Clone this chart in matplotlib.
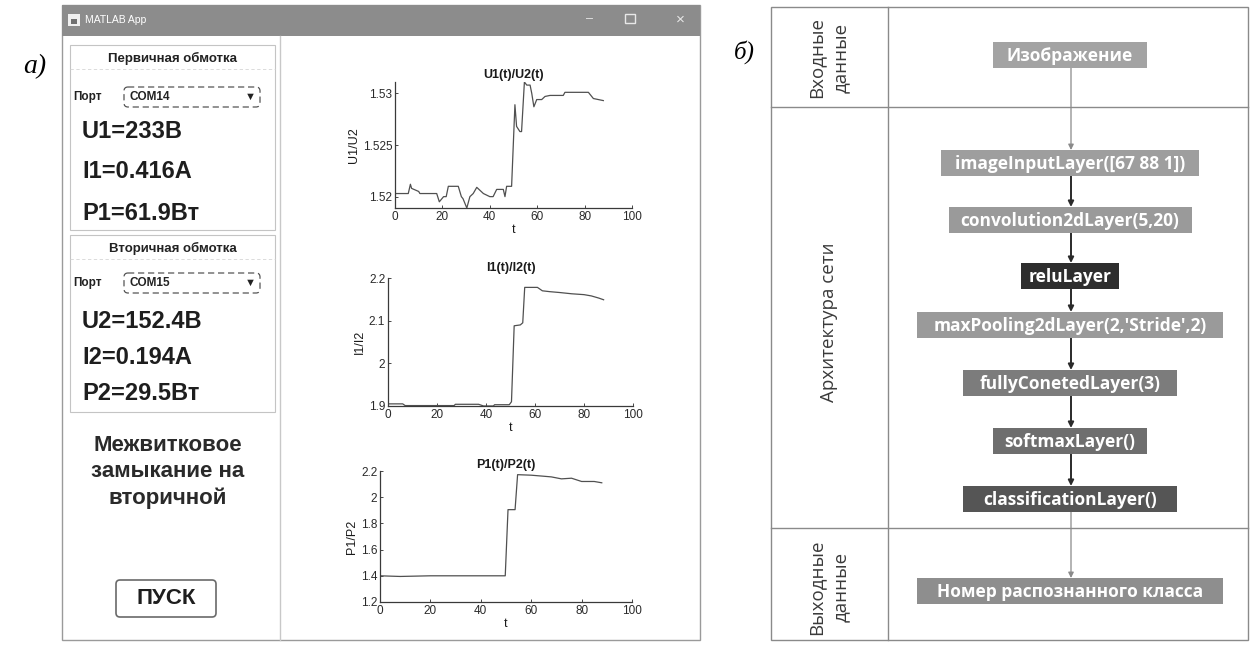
import numpy as np
import matplotlib.pyplot as plt
from matplotlib.patches import Rectangle, FancyBboxPatch

W, H = 1254, 645

# U1(t)/U2(t)
u_t = [0, 5.6, 6.5, 7, 10, 10.5, 17.6, 18.7, 20.5, 21.6, 22.5, 26.7, 28, 28.7, 30.3, 31.6,
       33, 34.5, 35.9, 37.3, 40, 41.4, 42.9, 45.7, 46.4, 47.1, 49.2, 50.6, 51.3, 52.7, 53.4,
       54.6, 55.6, 57, 57.7, 58.6, 59.8, 61.9, 63.3, 65.4, 71, 71.7, 81.6, 83.7, 85.8, 87.9]
u_ratio = [1.5203, 1.5203, 1.5212, 1.5208, 1.5205, 1.5203, 1.5203, 1.5195, 1.5200, 1.5200,
           1.5210, 1.5210, 1.5200, 1.5198, 1.5189, 1.5200, 1.5203, 1.5209, 1.5206, 1.5203,
           1.5200, 1.5200, 1.5207, 1.5207, 1.5200, 1.5210, 1.5210, 1.5289, 1.5268, 1.5263,
           1.5263, 1.5311, 1.5308, 1.5308, 1.5300, 1.5287, 1.5294, 1.5294, 1.5297, 1.5298,
           1.5298, 1.5301, 1.5301, 1.5295, 1.5294, 1.5293]

# I1(t)/I2(t)
i_t = [0, 6, 7, 27, 27.5, 37, 39, 43, 43.5, 49.5, 50.4, 51.5, 54, 55, 55.8, 61, 63, 66,
       70, 75, 80, 83, 86, 88]
i_ratio = [1.905, 1.905, 1.901, 1.901, 1.904, 1.904, 1.900, 1.900, 1.903, 1.903, 1.91,
           2.088, 2.09, 2.095, 2.178, 2.178, 2.170, 2.168, 2.166, 2.163, 2.161, 2.158,
           2.153, 2.149]

# P1(t)/P2(t)
p_t = [0, 8, 20, 49.7, 50.8, 53.6, 54.6, 60, 65, 68, 72, 76, 80, 85, 88]
p_ratio = [1.40, 1.395, 1.40, 1.40, 1.905, 1.905, 2.172, 2.168, 2.16, 2.155, 2.14, 2.145,
           2.12, 2.12, 2.11]

x_ticks = [0, 20, 40, 60, 80, 100]
u_yticks = [1.52, 1.525, 1.53]
i_yticks = [1.9, 2.0, 2.1, 2.2]
p_yticks = [1.2, 1.4, 1.6, 1.8, 2.0, 2.2]
u_ylabels = ['1.52', '1.525', '1.53']
i_ylabels = ['1.9', '2', '2.1', '2.2']
p_ylabels = ['1.2', '1.4', '1.6', '1.8', '2', '2.2']

group_titles = ['Первичная обмотка', 'Вторичная обмотка']
ports = ['COM14', 'COM15']
readings1 = ['U1=233В', 'I1=0.416A', 'P1=61.9Вт']
readings2 = ['U2=152.4В', 'I2=0.194A', 'P2=29.5Вт']
status = 'Межвитковое\nзамыкание на\nвторичной'

layers = ['Изображение', 'imageInputLayer([67 88 1])', 'convolution2dLayer(5,20)',
          'reluLayer', "maxPooling2dLayer(2,'Stride',2)", 'fullyConetedLayer(3)',
          'softmaxLayer()', 'classificationLayer()', 'Номер распознанного класса']
row_labels = ['Входные\nданные', 'Архитектура сети', 'Выходные\nданные']

sans = ['Liberation Sans', 'DejaVu Sans']
flow = ['Open Sans', 'DejaVu Sans']


def px_axes(fig, x0, y0, x1, y1):
    return fig.add_axes([x0 / W, 1 - y1 / H, (x1 - x0) / W, (y1 - y0) / H])


def matlab_plot(ax, t, v, title, ylab, yticks, ylabels, ylim, tpad):
    ax.plot(t, v, color='#505050', lw=0.9)
    ax.set_xlim(0, 100)
    ax.set_ylim(*ylim)
    ax.set_xticks(x_ticks)
    ax.set_yticks(yticks)
    ax.set_yticklabels(ylabels)
    for s in ['top', 'right']:
        ax.spines[s].set_visible(False)
    for s in ['left', 'bottom']:
        ax.spines[s].set_color('#3a3a3a')
        ax.spines[s].set_linewidth(0.9)
    ax.tick_params(direction='in', length=2.5, width=0.6, colors='#2a2a2a',
                   labelsize=8.5, pad=2)
    for lab in ax.get_xticklabels() + ax.get_yticklabels():
        lab.set_family(sans)
    ax.set_title(title, fontsize=9, fontweight='bold', family=sans, pad=tpad, color='#1a1a1a')
    ax.set_xlabel('t', fontsize=9, family=sans, labelpad=1, color='#1a1a1a')
    ax.set_ylabel(ylab, fontsize=9, family=sans, labelpad=2, color='#1a1a1a')
    ax.patch.set_alpha(0)


fig = plt.figure(figsize=(W / 100, H / 100), dpi=100)
bg = fig.add_axes([0, 0, 1, 1])
bg.set_xlim(0, W)
bg.set_ylim(H, 0)
bg.axis('off')

# ---- a) MATLAB window
bg.text(35, 67, 'а)', fontsize=20, style='italic', family='Liberation Serif',
        ha='center', va='center')
bg.add_patch(Rectangle((62, 5), 638, 635, fc='white', ec='#9a9a9a', lw=1))
bg.add_patch(Rectangle((62, 5), 638, 31, fc='#8c8c8c', ec='none'))
bg.add_patch(Rectangle((68, 14), 12, 12, fc='#f0f0f0', ec='none'))
bg.add_patch(Rectangle((71, 19), 6, 5, fc='#707070', ec='none'))
bg.text(85, 20, 'MATLAB App', fontsize=7.5, family=sans, color='white', va='center')
bg.text(590, 19, '–', fontsize=9, family=sans, color='#e8e8e8', ha='center', va='center')
bg.add_patch(Rectangle((625, 14), 10, 9, fc='none', ec='#e8e8e8', lw=1))
bg.text(680, 20, '×', fontsize=11, family=sans, color='#e8e8e8', ha='center', va='center')
bg.plot([280, 280], [36, 640], color='#c8c8c8', lw=1)

for k, (gy0, gy1) in enumerate([(45, 230), (235, 412)]):
    bg.add_patch(Rectangle((70, gy0), 205, gy1 - gy0, fc='none', ec='#c4c4c4', lw=0.8))
    bg.plot([70, 275], [gy0 + 24, gy0 + 24], color='#d6d6d6', lw=0.6, ls=(0, (4, 3)))
    bg.text(173, gy0 + 13, group_titles[k], fontsize=9.5, fontweight='bold', family=sans,
            ha='center', va='center', color='#222')
    py = gy0 + 52 if k == 0 else gy0 + 48
    bg.text(73, py, 'Порт', fontsize=8.5, fontweight='bold', family=sans, va='center',
            color='#222')
    bg.add_patch(FancyBboxPatch((124, py - 10), 136, 20, boxstyle='round,pad=0,rounding_size=4',
                                fc='white', ec='#555', lw=0.9, ls=(0, (5, 3))))
    bg.text(130, py, ports[k], fontsize=8.5, fontweight='bold', family=sans, va='center',
            color='#222')
    bg.text(250, py, '▼', fontsize=8, family=sans, ha='center', va='center', color='#222')

for j, s in enumerate(readings1):
    bg.text(82, 131 + 41 * j, s, fontsize=17, fontweight='bold', family=sans,
            va='center', color='#1e1e1e')
for j, s in enumerate(readings2):
    bg.text(82, 322 + 36 * j, s, fontsize=17, fontweight='bold', family=sans,
            va='center', color='#1e1e1e')
bg.text(168, 472, status, fontsize=16, fontweight='bold', family=sans, ha='center',
        va='center', linespacing=1.3, color='#2a2a2a')
bg.add_patch(FancyBboxPatch((116, 580), 100, 37, boxstyle='round,pad=0,rounding_size=4',
                            fc='white', ec='#6a6a6a', lw=1.2))
bg.text(166, 599, 'ПУСК', fontsize=16, fontweight='bold', family=sans, ha='center',
        va='center', color='#1e1e1e')

ax1 = px_axes(fig, 395, 82, 632, 208)
matlab_plot(ax1, u_t, u_ratio, 'U1(t)/U2(t)', 'U1/U2', u_yticks, u_ylabels,
            (min(u_ratio), max(u_ratio)), 3)
ax2 = px_axes(fig, 388, 278, 633, 406)
matlab_plot(ax2, i_t, i_ratio, 'I1(t)/I2(t)', 'I1/I2', i_yticks, i_ylabels, (1.9, 2.2), 5)
ax3 = px_axes(fig, 380, 471, 632, 602)
matlab_plot(ax3, p_t, p_ratio, 'P1(t)/P2(t)', 'P1/P2', p_yticks, p_ylabels, (1.2, 2.2), 2)

# ---- б) network structure
bg.text(744, 52, 'б)', fontsize=18, style='italic', family='Liberation Serif',
        ha='center', va='center')
tab_c = '#8a8a8a'
bg.add_patch(Rectangle((771, 7), 477, 633, fc='none', ec=tab_c, lw=1))
bg.plot([888, 888], [7, 640], color=tab_c, lw=1)
bg.plot([771, 1248], [107, 107], color=tab_c, lw=1)
bg.plot([771, 1248], [528, 528], color=tab_c, lw=1)
for lab, yc in zip(row_labels, [58, 322, 587]):
    bg.text(829, yc, lab, rotation=90, fontsize=13.5, family=flow, ha='center',
            va='center', color='#3a3a3a', linespacing=1.45)

box_y = [55, 163, 220, 276, 325, 383, 441, 499, 591]
box_w = [154, 258, 243, 98, 306, 214, 154, 214, 306]
box_fc = ['#a3a3a3', '#9e9e9e', '#9a9a9a', '#2e2e2e', '#9a9a9a', '#7c7c7c', '#6e6e6e',
          '#555555', '#8e8e8e']
cx, bh = 1070, 26
for k, name in enumerate(layers):
    bg.add_patch(Rectangle((cx - box_w[k] / 2, box_y[k] - bh / 2), box_w[k], bh,
                           fc=box_fc[k], ec='none', zorder=3))
    bg.text(cx, box_y[k] + 1, name, fontsize=12.5, fontweight='bold', family=flow,
            ha='center', va='center', color='white', zorder=4)
for k in range(len(layers) - 1):
    thin = k in (0, len(layers) - 2)
    bg.annotate('', xy=(1071, box_y[k + 1] - bh / 2), xytext=(1071, box_y[k] + bh / 2),
                arrowprops=dict(arrowstyle='-|>', color='#8a8a8a' if thin else '#2a2a2a',
                                lw=0.9 if thin else 1.4, mutation_scale=8,
                                shrinkA=0, shrinkB=0), zorder=2)

fig.savefig('out.png', dpi=100)
